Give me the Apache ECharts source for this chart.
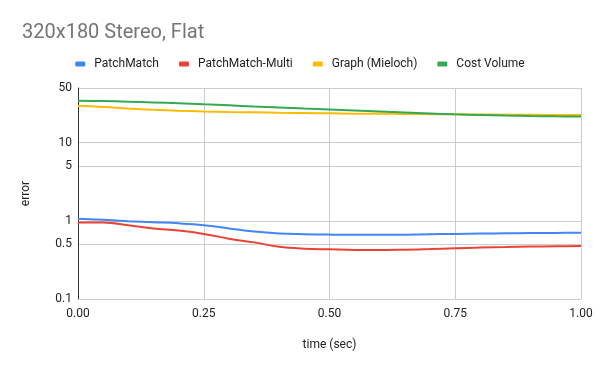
<!DOCTYPE html>
<html>
<head>
<meta charset="utf-8">
<script src="https://cdn.jsdelivr.net/npm/echarts@6/dist/echarts.min.js"></script>
<style>html,body{margin:0;padding:0;background:#fff}#c{width:600px;height:371px}</style>
</head>
<body>
<div id="c"></div>
<script>
const times = [0,0.05,0.1,0.15,0.2,0.25,0.3,0.35,0.4,0.45,0.5,0.55,0.6,0.65,0.7,0.75,0.8,0.85,0.9,0.95,1.0];
const patchMatch = [1.06,1.03,0.99,0.96,0.93,0.88,0.80,0.73,0.69,0.675,0.666,0.662,0.662,0.664,0.672,0.68,0.686,0.692,0.697,0.701,0.705];
const patchMatchMulti = [0.955,0.955,0.88,0.80,0.75,0.68,0.59,0.53,0.465,0.44,0.432,0.424,0.423,0.428,0.435,0.445,0.455,0.462,0.468,0.472,0.476];
const graphMieloch = [29.6,28.6,27.3,26.3,25.6,25.1,24.7,24.4,24.1,23.9,23.7,23.5,23.4,23.3,23.1,23.0,22.9,22.8,22.7,22.6,22.5];
const costVolume = [34.3,34.0,33.4,32.7,31.8,30.9,30.0,29.0,28.2,27.3,26.5,25.7,25.0,24.3,23.6,23.0,22.6,22.2,21.9,21.7,21.6];
const seriesNames = ['PatchMatch','PatchMatch-Multi','Graph (Mieloch)','Cost Volume'];
const seriesValues = [patchMatch, patchMatchMulti, graphMieloch, costVolume];
const seriesColors = ['#4285F4','#EA4335','#FBBC04','#34A853'];
const yTicks = [0.1,0.5,1,5,10,50];
const xTicks = [0,0.25,0.5,0.75,1];

const chart = echarts.init(document.getElementById('c'), null, {renderer:'canvas'});
const font = 'Roboto, Arial, sans-serif';
chart.setOption({
  animation:false,
  backgroundColor:'#fff',
  title:{text:'320x180 Stereo, Flat',left:17,top:18,textStyle:{fontFamily:font,fontSize:20,fontWeight:'normal',color:'#757575'}},
  legend:{
    top:53,left:'center',itemWidth:10,itemHeight:5,itemGap:20,
    icon:'roundRect',
    textStyle:{fontFamily:font,fontSize:12,color:'#222',padding:[0,0,0,4]},
    data:seriesNames
  },
  grid:{left:78,right:19,top:88,bottom:72,containLabel:false},
  xAxis:{
    type:'value',min:0,max:1,interval:0.25,
    name:'time (sec)',nameLocation:'middle',nameGap:40,
    nameTextStyle:{fontFamily:font,fontSize:12,color:'#222'},
    axisLine:{show:true,lineStyle:{color:'#ccc'}},
    axisTick:{show:false},
    axisLabel:{fontFamily:font,fontSize:12,color:'#222',margin:9,formatter:v=>v.toFixed(2),customValues:xTicks},
    splitLine:{show:true,lineStyle:{color:'#ccc',width:1}}
  },
  yAxis:{
    type:'log',logBase:10,min:0.1,max:50,
    name:'error',nameLocation:'middle',nameGap:46,
    nameTextStyle:{fontFamily:font,fontSize:12,color:'#222'},
    axisLine:{show:true,lineStyle:{color:'#333'}},
    axisTick:{show:false,customValues:yTicks},
    axisLabel:{fontFamily:font,fontSize:12,color:'#222',margin:6,customValues:yTicks,formatter:v=>String(+(+v).toPrecision(3))},
    splitLine:{show:true,lineStyle:{color:'#ccc',width:1}}
  },
  series: seriesNames.map((n,i)=>({
    name:n,type:'line',smooth:0.4,showSymbol:false,symbol:'none',
    lineStyle:{width:2,color:seriesColors[i]},itemStyle:{color:seriesColors[i]},
    data: times.map((t,j)=>[t,seriesValues[i][j]])
  }))
});
</script>
</body>
</html>
